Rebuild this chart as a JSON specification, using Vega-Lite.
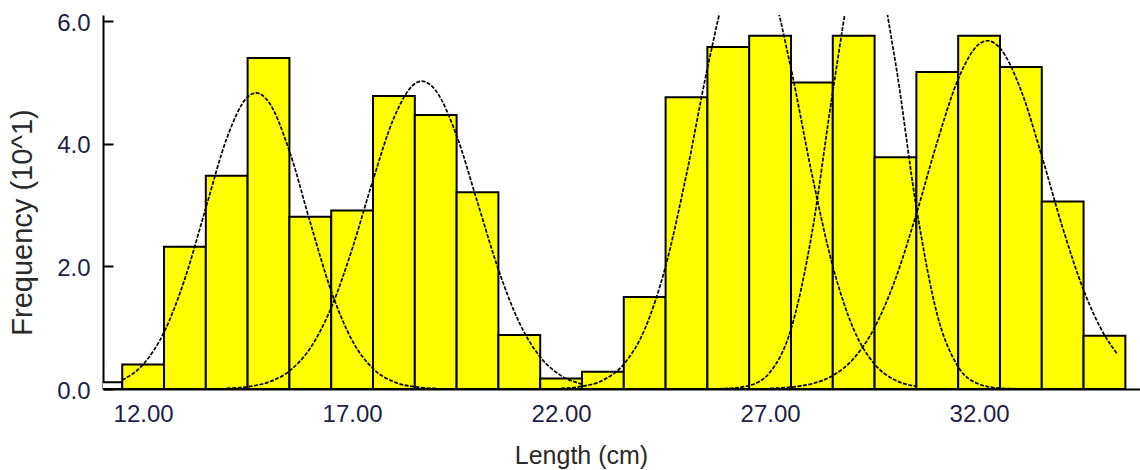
{
  "$schema": "https://vega.github.io/schema/vega-lite/v6.json",
  "width": 1037,
  "height": 374,
  "autosize": {"type": "none"},
  "padding": {"left": 103, "top": 15, "right": 0, "bottom": 81},
  "background": "white",
  "config": {"view": {"stroke": null}},
  "datasets": {
    "bars": [
      {"lo": 11.5, "hi": 12.5, "freq": 0.40},
      {"lo": 12.5, "hi": 13.5, "freq": 2.32},
      {"lo": 13.5, "hi": 14.5, "freq": 3.48},
      {"lo": 14.5, "hi": 15.5, "freq": 5.40},
      {"lo": 15.5, "hi": 16.5, "freq": 2.81},
      {"lo": 16.5, "hi": 17.5, "freq": 2.91},
      {"lo": 17.5, "hi": 18.5, "freq": 4.78},
      {"lo": 18.5, "hi": 19.5, "freq": 4.47},
      {"lo": 19.5, "hi": 20.5, "freq": 3.21},
      {"lo": 20.5, "hi": 21.5, "freq": 0.88},
      {"lo": 21.5, "hi": 22.5, "freq": 0.17},
      {"lo": 22.5, "hi": 23.5, "freq": 0.28},
      {"lo": 23.5, "hi": 24.5, "freq": 1.50},
      {"lo": 24.5, "hi": 25.5, "freq": 4.76},
      {"lo": 25.5, "hi": 26.5, "freq": 5.58},
      {"lo": 26.5, "hi": 27.5, "freq": 5.76},
      {"lo": 27.5, "hi": 28.5, "freq": 5.00},
      {"lo": 28.5, "hi": 29.5, "freq": 5.76},
      {"lo": 29.5, "hi": 30.5, "freq": 3.78},
      {"lo": 30.5, "hi": 31.5, "freq": 5.17},
      {"lo": 31.5, "hi": 32.5, "freq": 5.76},
      {"lo": 32.5, "hi": 33.5, "freq": 5.25},
      {"lo": 33.5, "hi": 34.5, "freq": 3.06},
      {"lo": 34.5, "hi": 35.5, "freq": 0.87}
    ],
    "lowbin": [
      {"lo": 10.5, "hi": 11.5, "freq": 0.11}
    ],
    "curves": [
      {"comp": 1, "len": 11.5, "f": 0.146},
      {"comp": 1, "len": 12.0, "f": 0.400},
      {"comp": 1, "len": 12.5, "f": 0.925},
      {"comp": 1, "len": 13.0, "f": 1.800},
      {"comp": 1, "len": 13.5, "f": 2.953},
      {"comp": 1, "len": 14.0, "f": 4.086},
      {"comp": 1, "len": 14.5, "f": 4.764},
      {"comp": 1, "len": 14.7, "f": 4.830},
      {"comp": 1, "len": 15.0, "f": 4.684},
      {"comp": 1, "len": 15.5, "f": 3.881},
      {"comp": 1, "len": 16.0, "f": 2.712},
      {"comp": 1, "len": 16.5, "f": 1.597},
      {"comp": 1, "len": 17.0, "f": 0.793},
      {"comp": 1, "len": 17.5, "f": 0.332},
      {"comp": 1, "len": 18.0, "f": 0.117},
      {"comp": 1, "len": 18.5, "f": 0.035},
      {"comp": 1, "len": 19.0, "f": 0.009},
      {"comp": 2, "len": 14.0, "f": 0.011},
      {"comp": 2, "len": 14.5, "f": 0.037},
      {"comp": 2, "len": 15.0, "f": 0.112},
      {"comp": 2, "len": 15.5, "f": 0.293},
      {"comp": 2, "len": 16.0, "f": 0.669},
      {"comp": 2, "len": 16.5, "f": 1.326},
      {"comp": 2, "len": 17.0, "f": 2.282},
      {"comp": 2, "len": 17.5, "f": 3.409},
      {"comp": 2, "len": 18.0, "f": 4.422},
      {"comp": 2, "len": 18.5, "f": 4.979},
      {"comp": 2, "len": 18.67, "f": 5.020},
      {"comp": 2, "len": 19.0, "f": 4.868},
      {"comp": 2, "len": 19.5, "f": 4.132},
      {"comp": 2, "len": 20.0, "f": 3.045},
      {"comp": 2, "len": 20.5, "f": 1.948},
      {"comp": 2, "len": 21.0, "f": 1.082},
      {"comp": 2, "len": 21.5, "f": 0.522},
      {"comp": 2, "len": 22.0, "f": 0.218},
      {"comp": 2, "len": 22.5, "f": 0.079},
      {"comp": 3, "len": 22.0, "f": 0.011},
      {"comp": 3, "len": 22.5, "f": 0.043},
      {"comp": 3, "len": 23.0, "f": 0.143},
      {"comp": 3, "len": 23.5, "f": 0.404},
      {"comp": 3, "len": 24.0, "f": 0.974},
      {"comp": 3, "len": 24.5, "f": 2.002},
      {"comp": 3, "len": 25.0, "f": 3.505},
      {"comp": 3, "len": 25.5, "f": 5.228},
      {"comp": 3, "len": 26.0, "f": 6.646},
      {"comp": 3, "len": 26.5, "f": 7.200},
      {"comp": 3, "len": 27.0, "f": 6.646},
      {"comp": 3, "len": 27.5, "f": 5.228},
      {"comp": 3, "len": 28.0, "f": 3.505},
      {"comp": 3, "len": 28.5, "f": 2.002},
      {"comp": 3, "len": 29.0, "f": 0.974},
      {"comp": 3, "len": 29.5, "f": 0.404},
      {"comp": 3, "len": 30.0, "f": 0.143},
      {"comp": 3, "len": 30.5, "f": 0.043},
      {"comp": 4, "len": 25.5, "f": 0.001},
      {"comp": 4, "len": 26.0, "f": 0.009},
      {"comp": 4, "len": 26.5, "f": 0.057},
      {"comp": 4, "len": 27.0, "f": 0.275},
      {"comp": 4, "len": 27.5, "f": 0.974},
      {"comp": 4, "len": 28.0, "f": 2.537},
      {"comp": 4, "len": 28.5, "f": 4.851},
      {"comp": 4, "len": 29.0, "f": 6.811},
      {"comp": 4, "len": 29.3, "f": 7.200},
      {"comp": 4, "len": 29.5, "f": 7.024},
      {"comp": 4, "len": 30.0, "f": 5.321},
      {"comp": 4, "len": 30.5, "f": 2.960},
      {"comp": 4, "len": 31.0, "f": 1.209},
      {"comp": 4, "len": 31.5, "f": 0.363},
      {"comp": 4, "len": 32.0, "f": 0.080},
      {"comp": 4, "len": 32.5, "f": 0.013},
      {"comp": 4, "len": 33.0, "f": 0.002},
      {"comp": 5, "len": 27.0, "f": 0.010},
      {"comp": 5, "len": 27.5, "f": 0.030},
      {"comp": 5, "len": 28.0, "f": 0.086},
      {"comp": 5, "len": 28.5, "f": 0.219},
      {"comp": 5, "len": 29.0, "f": 0.497},
      {"comp": 5, "len": 29.5, "f": 1.003},
      {"comp": 5, "len": 30.0, "f": 1.797},
      {"comp": 5, "len": 30.5, "f": 2.857},
      {"comp": 5, "len": 31.0, "f": 4.033},
      {"comp": 5, "len": 31.5, "f": 5.055},
      {"comp": 5, "len": 32.0, "f": 5.626},
      {"comp": 5, "len": 32.2, "f": 5.680},
      {"comp": 5, "len": 32.5, "f": 5.560},
      {"comp": 5, "len": 33.0, "f": 4.878},
      {"comp": 5, "len": 33.5, "f": 3.800},
      {"comp": 5, "len": 34.0, "f": 2.629},
      {"comp": 5, "len": 34.5, "f": 1.614},
      {"comp": 5, "len": 35.0, "f": 0.880},
      {"comp": 5, "len": 35.3, "f": 0.578}
    ]
  },
  "encoding": {
    "x": {
      "type": "quantitative",
      "scale": {"domain": [11.04, 35.85], "nice": false, "zero": false},
      "axis": {
        "title": "Length (cm)",
        "values": [12, 17, 22, 27, 32],
        "format": ".2f",
        "grid": false,
        "domainColor": "black",
        "domainWidth": 2,
        "tickColor": "black",
        "tickWidth": 2,
        "tickSize": -8,
        "labelFont": "Liberation Sans",
        "labelFontSize": 24,
        "labelColor": "#1e1e46",
        "labelPadding": 21,
        "labelBaseline": "top",
        "titleFont": "Liberation Sans",
        "titleFontSize": 25,
        "titleFontWeight": "normal",
        "titleColor": "#2a2a2a",
        "titleX": 478,
        "titleY": 74,
        "titleAlign": "center",
        "titleBaseline": "alphabetic"
      }
    },
    "y": {
      "type": "quantitative",
      "scale": {"domain": [0, 6.1], "nice": false},
      "axis": {
        "title": "Frequency (10^1)",
        "values": [0, 2, 4, 6],
        "format": ".1f",
        "grid": false,
        "domainColor": "black",
        "domainWidth": 2,
        "tickColor": "black",
        "tickWidth": 2,
        "tickSize": -10,
        "labelFont": "Liberation Sans",
        "labelFontSize": 24,
        "labelColor": "#1e1e46",
        "labelPadding": 23,
        "labelOffset": 2,
        "titleFont": "Liberation Sans",
        "titleFontSize": 29,
        "titleFontWeight": "normal",
        "titleColor": "#2a2a2a",
        "titleAngle": 270,
        "titleX": -81,
        "titleY": 207,
        "titleAlign": "center",
        "titleBaseline": "middle"
      }
    }
  },
  "layer": [
    {
      "data": {"name": "lowbin"},
      "mark": {"type": "bar", "fill": "white", "stroke": "black", "strokeWidth": 2, "clip": true},
      "encoding": {
        "x": {"field": "lo"},
        "x2": {"field": "hi"},
        "y": {"field": "freq"},
        "y2": {"datum": 0}
      }
    },
    {
      "data": {"name": "bars"},
      "mark": {"type": "bar", "fill": "#ffff00", "stroke": "black", "strokeWidth": 2, "clip": true},
      "encoding": {
        "x": {"field": "lo"},
        "x2": {"field": "hi"},
        "y": {"field": "freq"},
        "y2": {"datum": 0}
      }
    },
    {
      "data": {"name": "curves"},
      "mark": {"type": "line", "color": "#000000", "strokeWidth": 1.7, "strokeDash": [4, 1.5], "interpolate": "monotone", "clip": true},
      "encoding": {
        "x": {"field": "len"},
        "y": {"field": "f"},
        "detail": {"field": "comp"}
      }
    }
  ]
}
